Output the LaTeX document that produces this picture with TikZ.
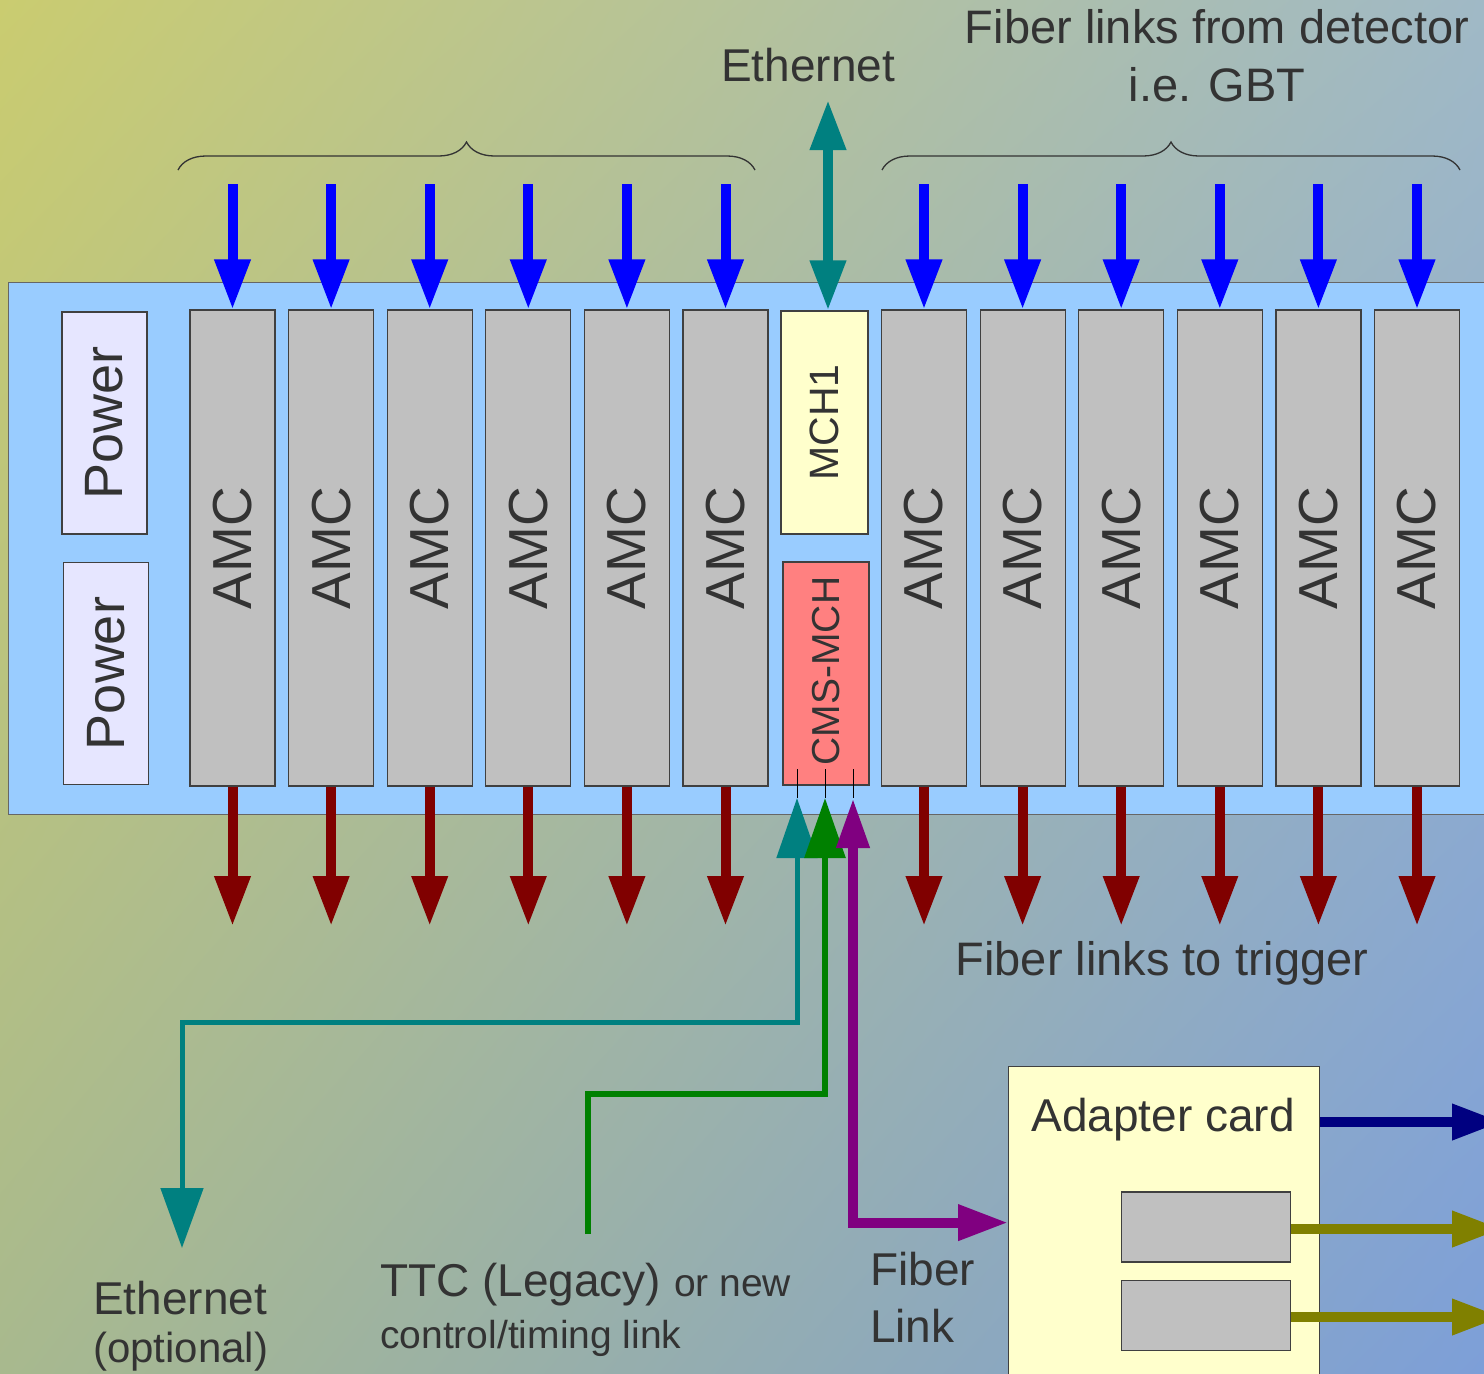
\documentclass[tikz,border=0pt]{standalone}
\usepackage{fontspec}
\setmainfont{Liberation Sans}
\usetikzlibrary{arrows.meta,decorations.pathreplacing,shadings}
\definecolor{bgtl}{HTML}{CACC70}
\definecolor{bgtr}{HTML}{A0B9C6}
\definecolor{bgbl}{HTML}{A8B98E}
\definecolor{bgbr}{HTML}{7D9FD8}
\definecolor{crateblue}{HTML}{99CCFF}
\definecolor{amcgrey}{HTML}{C0C0C0}
\definecolor{powerlav}{HTML}{E6E6FF}
\definecolor{mchyellow}{HTML}{FFFFCC}
\definecolor{mchred}{HTML}{FF8080}
\definecolor{edgegrey}{HTML}{404040}
\definecolor{txtgrey}{HTML}{333333}
\definecolor{linkblue}{HTML}{0000FF}
\definecolor{linkred}{HTML}{800000}
\definecolor{linkteal}{HTML}{008080}
\definecolor{linkgreen}{HTML}{008000}
\definecolor{linkpurple}{HTML}{800080}
\definecolor{linknavy}{HTML}{000080}
\definecolor{linkolive}{HTML}{808000}

\begin{document}
\begin{tikzpicture}[x=1pt,y=-1pt,
  card/.style={draw=edgegrey,line width=1.2pt,inner sep=0pt},
  amc/.style={card,fill=amcgrey,minimum width=85pt,minimum height=476pt},
  psu/.style={card,fill=powerlav,minimum width=85pt,minimum height=222pt},
  vlabel/.style={rotate=90,inner sep=0pt,text=txtgrey,font=\fontsize{55}{60}\selectfont},
  txt/.style={inner sep=0pt,text=txtgrey,font=\fontsize{46}{56}\selectfont},
  tip/.style={-{Triangle[length=50pt,width=34pt]}},
  fibin/.style={tip,line width=10pt,linkblue},
  fibout/.style={tip,line width=10pt,linkred},
  olink/.style={tip,line width=10pt},
  pin/.style={draw=black,line width=1pt},
  brace/.style={decorate,decoration={brace,amplitude=28pt},draw=black!80,line width=1.3pt}]
\useasboundingbox (0,0) rectangle (1484,1374);
\clip (0,0) rectangle (1484,1374);
\shade[upper left=bgtl,upper right=bgtr,lower left=bgbl,lower right=bgbr] (0,0) rectangle (1484,1374);

% labels on top
\node[txt] (ethtxt) at (808,65) {Ethernet};
\node[txt,align=center,font=\fontsize{47}{58}\selectfont] (gbttxt) at (1217,56) {Fiber links from detector\\i.e. GBT};
\draw[brace] (178,170) -- (755,170);
\draw[brace] (882,170) -- (1460,170);

% crate
\node[card,draw=edgegrey!80,line width=1pt,fill=crateblue,anchor=north west,minimum width=1520pt,minimum height=532pt] (crate) at (8,282) {};
\node[psu] (pwr1) at (104.5,423) {};
\node[vlabel,font=\fontsize{54}{60}\selectfont] (pwr1-txt) at (pwr1) {Power};
\node[psu] (pwr2) at (106,673.5) {};
\node[vlabel,font=\fontsize{54}{60}\selectfont] (pwr2-txt) at (pwr2) {Power};
\node[card,fill=mchyellow,minimum width=87pt,minimum height=223pt] (mch1) at (824.5,422.5) {};
\node[vlabel,font=\fontsize{41}{48}\selectfont] (mch1-txt) at (mch1) {MCH1};
\node[card,fill=mchred,minimum width=86pt,minimum height=223pt] (cmsmch) at (826,673.5) {};
\node[vlabel,font=\fontsize{39}{46}\selectfont] (cmsmch-txt) at (826,671) {CMS-MCH};

\foreach \i/\x in {1/232.5,2/331.1,3/429.7,4/528.3,5/626.9,6/725.5,7/924,8/1022.6,9/1121.2,10/1219.8,11/1318.4,12/1417}{
  \node[amc] (amc\i) at (\x,548) {};
  \node[vlabel] (amc\i-txt) at (amc\i) {AMC};
  \coordinate (fin\i) at (\x,184);
  \coordinate (fout\i) at (\x,926);
  \draw[fibin] (fin\i) -- (amc\i.north);
  \draw[fibout] (amc\i.south) -- (fout\i);
}

% ethernet from MCH1
\coordinate (ethtop) at (828,100);
\draw[line width=10pt,linkteal,{Triangle[length=50pt,width=34pt]}-{Triangle[length=50pt,width=34pt]}] (ethtop) -- (ethtop |- mch1.north);

% CMS-MCH ports
\coordinate (portA) at (797,798);
\coordinate (portB) at (825,798);
\coordinate (portC) at (853,798);
\foreach \p/\x in {A/797,B/825,C/853}
  \draw[pin] (\x,769) -- (port\p);

\coordinate (bendA) at (797,1022);
\coordinate (ethopt) at (182,1248);
\draw[line width=5pt,linkteal,{Triangle[length=60pt,width=40pt]}-{Triangle[length=60pt,width=42pt]}] (portA) -- (bendA) -| (ethopt);
\coordinate (bendB) at (825,1094);
\coordinate (ttcend) at (588,1234);
\draw[line width=6pt,linkgreen,-{Triangle[length=60pt,width=40pt]}] (ttcend) |- (bendB) -- (portB);

% adapter card
\node[card,fill=mchyellow,anchor=north west,minimum width=311pt,minimum height=312pt] (adapter) at (1008,1066) {};
\node[txt] (adaptxt) at (1163,1120) {Adapter card};
\node[card,fill=amcgrey,minimum width=169pt,minimum height=70pt] (sfp1) at (1206,1227) {};
\node[card,fill=amcgrey,minimum width=169pt,minimum height=70pt] (sfp2) at (1206,1315.5) {};
\draw[line width=10pt,linkpurple,{Triangle[length=50pt,width=31pt]}-{Triangle[length=50pt,width=34pt]}] (portC) |- (adapter.west);
\coordinate (outN) at (1502,1122);
\coordinate (outO1) at (1502,1229);
\coordinate (outO2) at (1502,1317);
\draw[olink,linknavy] (adapter.east |- outN) -- (outN);
\draw[olink,linkolive] (sfp1.east |- outO1) -- (outO1);
\draw[olink,linkolive] (sfp2.east |- outO2) -- (outO2);

% labels below
\node[txt,font=\fontsize{47}{56}\selectfont] (trigtxt) at (1162,963) {Fiber links to trigger};
\node[txt,anchor=north west,align=left,font=\fontsize{46}{48}\selectfont] (ethopttxt) at (93,1281) {Ethernet\\{\fontsize{42}{48}\selectfont (optional)}};
\node[txt,anchor=north west,align=left,font=\fontsize{46}{52}\selectfont] (ttctxt) at (380,1263) {TTC (Legacy) {\fontsize{39}{52}\selectfont or new}\\{\fontsize{39}{52}\selectfont control/timing link}};
\node[txt,anchor=north west,align=left,font=\fontsize{46}{57}\selectfont] (fibtxt) at (870,1252) {Fiber\\Link};
\end{tikzpicture}
\end{document}
